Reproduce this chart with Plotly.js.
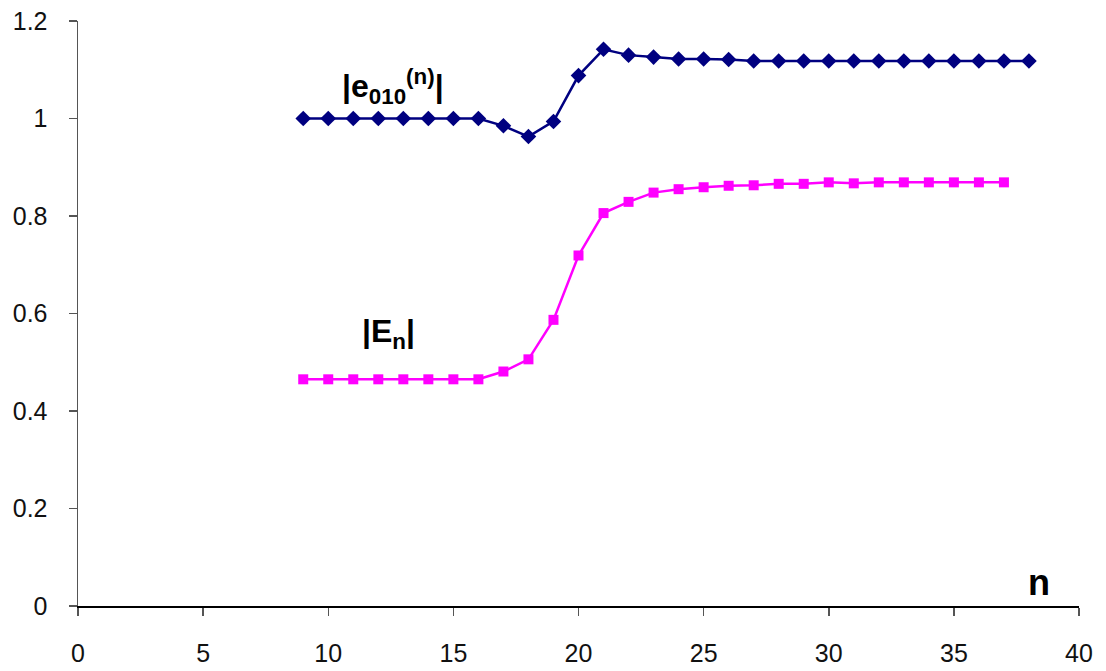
<!DOCTYPE html>
<html>
<head>
<meta charset="utf-8">
<script src="https://cdn.plot.ly/plotly-3.0.1.min.js"></script>
<style>
  html, body { margin: 0; padding: 0; background: #fff; }
  #chart { width: 1106px; height: 671px; }
</style>
</head>
<body>
<div id="chart"></div>
<script>
// Mode index n for each series
const nE010 = [9,10,11,12,13,14,15,16,17,18,19,20,21,22,23,24,25,26,27,28,29,30,31,32,33,34,35,36,37,38];
const e010 = [1.0,1.0,1.0,1.0,1.0,1.0,1.0,1.0,0.985,0.963,0.994,1.088,1.142,1.130,1.126,1.122,1.122,1.121,1.118,1.118,1.118,1.118,1.118,1.118,1.118,1.118,1.118,1.118,1.118,1.118];

const nEn = [9,10,11,12,13,14,15,16,17,18,19,20,21,22,23,24,25,26,27,28,29,30,31,32,33,34,35,36,37];
const En = [0.465,0.465,0.465,0.465,0.465,0.465,0.465,0.465,0.481,0.506,0.587,0.719,0.806,0.829,0.848,0.855,0.859,0.862,0.863,0.866,0.866,0.869,0.867,0.869,0.869,0.869,0.869,0.869,0.869];

const xTicks = [0,5,10,15,20,25,30,35,40];
const yTicks = [0,0.2,0.4,0.6,0.8,1,1.2];

const traces = [
  {
    x: nE010, y: e010, type: 'scatter', mode: 'lines+markers',
    line: { color: '#000080', width: 2.5 },
    marker: { symbol: 'diamond', size: 12, color: '#000080' },
    hoverinfo: 'skip'
  },
  {
    x: nEn, y: En, type: 'scatter', mode: 'lines+markers',
    line: { color: '#FF00FF', width: 2.5 },
    marker: { symbol: 'square', size: 10, color: '#FF00FF' },
    hoverinfo: 'skip'
  }
];

const labelFont = { family: 'Liberation Sans, Arial, sans-serif', size: 32, color: '#000', weight: 'bold' };

const layout = {
  width: 1106, height: 671,
  margin: { l: 78, r: 27, t: 21, b: 65, pad: 0 },
  paper_bgcolor: '#fff', plot_bgcolor: '#fff',
  showlegend: false,
  font: { family: 'Liberation Sans, Arial, sans-serif', size: 25, color: '#000' },
  xaxis: {
    range: [0, 40], tickvals: xTicks, ticktext: xTicks.map(String),
    showgrid: false, zeroline: false,
    showline: true, linecolor: '#000', linewidth: 1.5,
    ticks: 'outside', ticklen: 8, tickwidth: 1.5, tickcolor: '#555',
    ticklabelstandoff: 16,
    tickfont: { size: 25, color: '#111' }
  },
  yaxis: {
    range: [0, 1.2], tickvals: yTicks, ticktext: ['0','0.2','0.4','0.6','0.8','1','1.2'],
    showgrid: false, zeroline: false,
    showline: true, linecolor: '#555', linewidth: 1.5,
    ticks: 'outside', ticklen: 8, tickwidth: 1.5, tickcolor: '#555',
    ticklabelstandoff: 16,
    tickfont: { size: 25, color: '#111' }
  },
  annotations: [
    { x: 12.6, y: 1.065, xref: 'x', yref: 'y', showarrow: false,
      text: '|e<sub>010</sub><sup>(n)</sup>|', font: labelFont },
    { x: 12.4, y: 0.56, xref: 'x', yref: 'y', showarrow: false,
      text: '|E<sub>n</sub>|', font: labelFont },
    { x: 38.4, y: 0.049, xref: 'x', yref: 'y', showarrow: false,
      text: 'n', font: Object.assign({}, labelFont, { size: 36 }) }
  ]
};

Plotly.newPlot('chart', traces, layout, { displayModeBar: false, staticPlot: true });
</script>
</body>
</html>
